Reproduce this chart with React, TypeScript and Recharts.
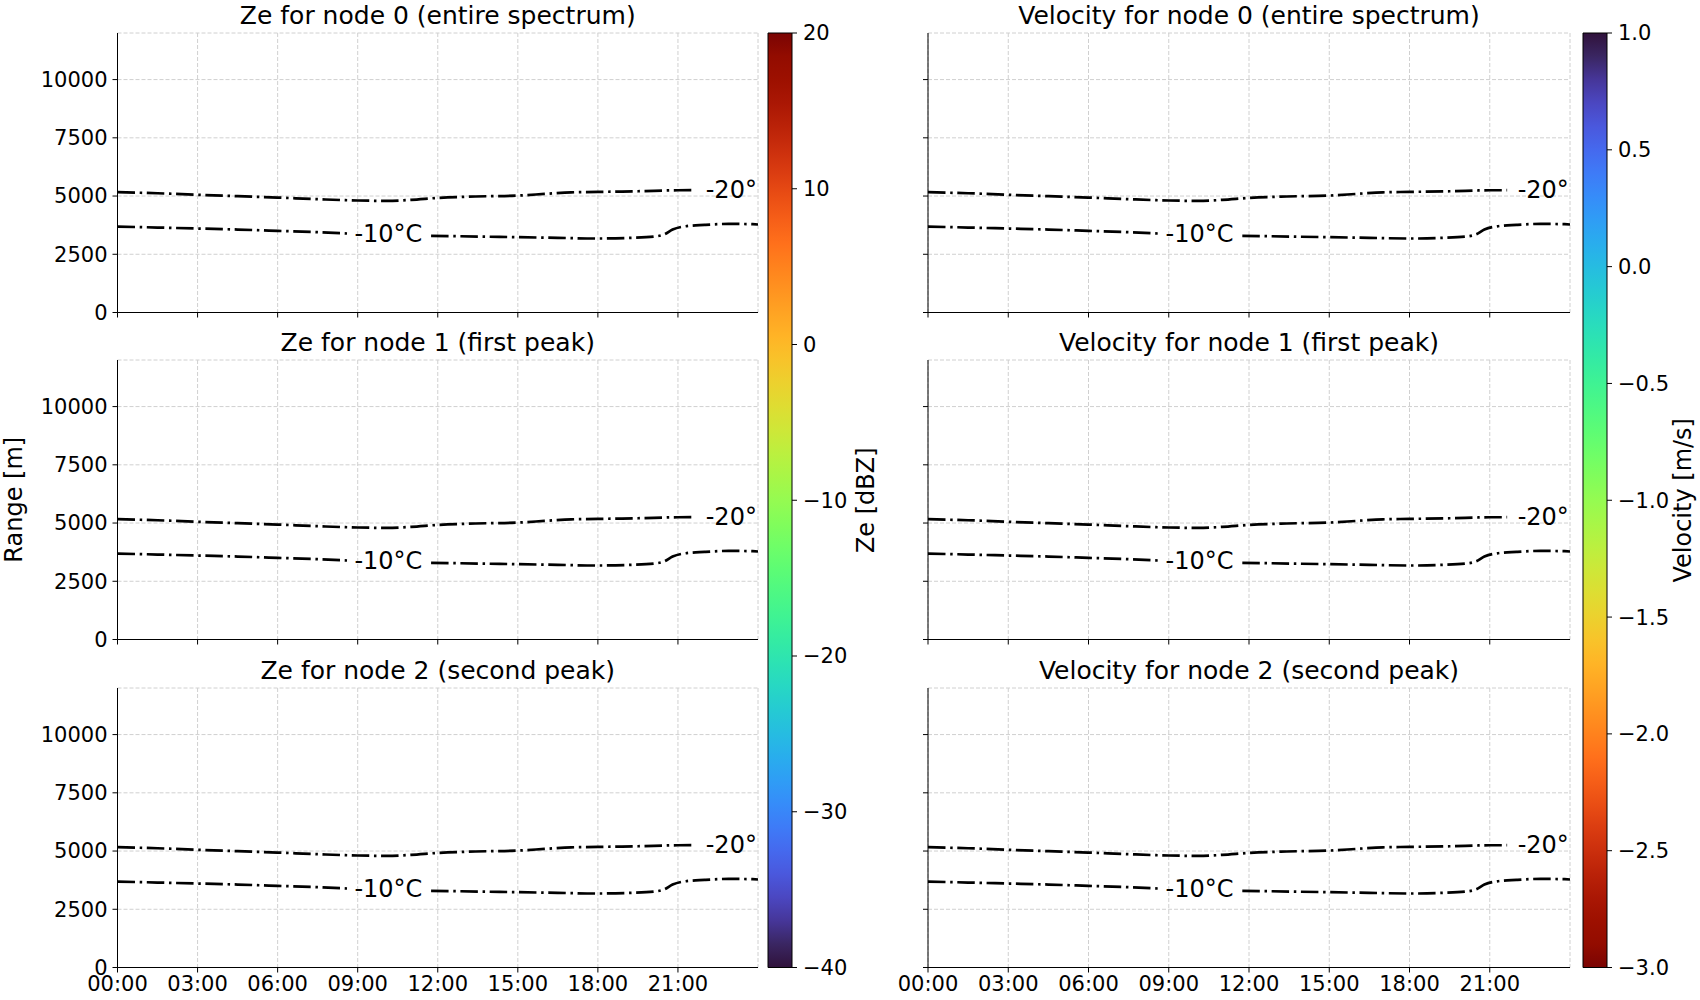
import React from "react";
import {
  LineChart,
  Line,
  XAxis,
  YAxis,
  CartesianGrid,
  ReferenceDot,
  BarChart,
  Bar,
} from "recharts";

// time axis (hours of the day)
const timeTicks = [0, 3, 6, 9, 12, 15, 18, 21];
const timeLabels = ["00:00", "03:00", "06:00", "09:00", "12:00", "15:00", "18:00", "21:00"];
const rangeTicks = [0, 2500, 5000, 7500, 10000];

// -20 °C isotherm
const iso20Hours = [0, 1.5, 3, 4.5, 6, 7.5, 9, 10.1, 11, 12, 13.4, 15, 16, 17, 18, 19.5, 21, 21.65];
const iso20Range = [5165, 5120, 5055, 4995, 4935, 4865, 4808, 4793, 4835, 4920, 4980, 5020, 5090, 5160, 5178, 5205, 5248, 5250];

// -10 °C isotherm (broken where the label sits)
const iso10aHours = [0, 1.5, 3, 4.5, 6, 7.5, 8.6];
const iso10aRange = [3690, 3648, 3605, 3562, 3505, 3447, 3392];
const iso10bHours = [11.75, 13.5, 15, 16.5, 18, 19.2, 20.1, 20.5, 20.8, 21.2, 22, 22.9, 23.8, 24];
const iso10bRange = [3292, 3261, 3233, 3204, 3176, 3204, 3261, 3362, 3562, 3690, 3762, 3805, 3792, 3778];

const isoLabels = ["-20°", "-10°C"];
const isoLabelHours = [23.0, 10.15];
const isoLabelRange = [5240, 3370];

const zeTitles = [
  "Ze for node 0 (entire spectrum)",
  "Ze for node 1 (first peak)",
  "Ze for node 2 (second peak)",
];
const velTitles = [
  "Velocity for node 0 (entire spectrum)",
  "Velocity for node 1 (first peak)",
  "Velocity for node 2 (second peak)",
];

const zeTicks = [-40, -30, -20, -10, 0, 10, 20];
const zeTickLabels = ["−40", "−30", "−20", "−10", "0", "10", "20"];
const velTicks = [-3, -2.5, -2, -1.5, -1, -0.5, 0, 0.5, 1];
const velTickLabels = ["−3.0", "−2.5", "−2.0", "−1.5", "−1.0", "−0.5", "0.0", "0.5", "1.0"];

const toPoints = (hs: number[], rs: number[]) => hs.map((h, i) => ({ h, r: rs[i] }));
const iso20 = toPoints(iso20Hours, iso20Range);
const iso10a = toPoints(iso10aHours, iso10aRange);
const iso10b = toPoints(iso10bHours, iso10bRange);

const FONT = "DejaVu Sans, sans-serif";
const PLOT_H = 279.5;
const ROW_TOPS = [32.5, 360, 687.5];
const PAD = 15;

// turbo colormap (polynomial approximation)
function turbo(t: number) {
  if (t <= 0) return "#30123b";
  if (t >= 1) return "#7a0403";
  const c = (v: number) => Math.max(0, Math.min(255, Math.round(v)));
  const r = c(34.61 + t * (1172.33 - t * (10793.56 - t * (33300.12 - t * (38394.49 - t * 14825.05)))));
  const g = c(23.31 + t * (557.33 + t * (1225.33 - t * (3574.96 - t * (1073.77 + t * 707.56)))));
  const b = c(27.2 + t * (3211.1 - t * (15327.97 - t * (27814 - t * (22569.18 - t * 6838.66)))));
  return `rgb(${r},${g},${b})`;
}
const stops = Array.from({ length: 41 }, (_, i) => i / 40);

const lineStyle = {
  stroke: "#000",
  strokeWidth: 2.7,
  strokeDasharray: "17.5 4.7 2.5 4.6",
  dot: false,
  type: "monotone" as const,
  isAnimationActive: false,
};

const tickStyle = { fill: "#000", fontSize: 21, fontFamily: FONT };

function sideLabel(text: string, dx: number) {
  return {
    value: text,
    content: (p: any) => {
      const vb = p.viewBox;
      const x = vb.x + dx;
      const y = vb.y + vb.height / 2;
      return (
        <text
          x={x}
          y={y}
          transform={`rotate(-90 ${x} ${y})`}
          textAnchor="middle"
          dominantBaseline="central"
          fontSize={24}
          fontFamily={FONT}
          fill="#000"
        >
          {text}
        </text>
      );
    },
  };
}

interface PanelProps {
  plotLeft: number;
  plotRight: number;
  yw: number;
  row: number;
  title: string;
  showYLabels: boolean;
  yLabel?: string;
}

function Panel({ plotLeft, plotRight, yw, row, title, showYLabels, yLabel }: PanelProps) {
  const top = ROW_TOPS[row];
  const bottomRow = row === 2;
  const xh = bottomRow ? 40 : 10;
  const chartLeft = plotLeft - yw;
  const width = plotRight - chartLeft + 2;
  const height = PAD + PLOT_H + xh + PAD;
  return (
    <>
      <div
        style={{
          position: "absolute",
          left: plotLeft,
          width: plotRight - plotLeft,
          top: top - 30,
          height: 25,
          lineHeight: "25px",
          fontSize: 25,
          textAlign: "center",
          whiteSpace: "nowrap",
        }}
      >
        {title}
      </div>
      <div style={{ position: "absolute", left: chartLeft, top: top - PAD }}>
        <LineChart width={width} height={height} margin={{ top: PAD, right: 2, bottom: PAD, left: 0 }}>
          <CartesianGrid stroke="#d0d0d0" strokeDasharray="4 2" />
          <XAxis
            dataKey="h"
            type="number"
            domain={[0, 24]}
            ticks={timeTicks}
            interval={0}
            allowDataOverflow
            height={xh}
            tickSize={5}
            tickMargin={4}
            stroke="#000"
            tick={tickStyle}
            tickFormatter={(v: number) => (bottomRow ? timeLabels[timeTicks.indexOf(v)] : "")}
          />
          <XAxis
            xAxisId="top"
            orientation="top"
            dataKey="h"
            type="number"
            domain={[0, 24]}
            height={0}
            tick={false}
            tickLine={false}
            stroke="#000"
          />
          <YAxis
            type="number"
            domain={[0, 12000]}
            ticks={rangeTicks}
            interval={0}
            allowDataOverflow
            width={yw}
            tickSize={5}
            tickMargin={5}
            stroke="#000"
            tick={tickStyle}
            tickFormatter={(v: number) => (showYLabels ? String(v) : "")}
            label={yLabel ? sideLabel(yLabel, 13.5) : undefined}
          />
          <YAxis
            yAxisId="right"
            orientation="right"
            type="number"
            domain={[0, 12000]}
            width={0}
            tick={false}
            tickLine={false}
            stroke="#000"
          />
          <Line data={iso20} dataKey="r" {...lineStyle} />
          <Line data={iso10a} dataKey="r" {...lineStyle} />
          <Line data={iso10b} dataKey="r" {...lineStyle} />
          {isoLabels.map((txt, i) => (
            <ReferenceDot
              key={txt}
              x={isoLabelHours[i]}
              y={isoLabelRange[i]}
              r={0}
              ifOverflow="visible"
              shape={(p: any) => (
                <text
                  x={p.cx}
                  y={p.cy}
                  textAnchor="middle"
                  dominantBaseline="central"
                  fontSize={24}
                  fontFamily={FONT}
                  fill="#000"
                >
                  {txt}
                </text>
              )}
            />
          ))}
        </LineChart>
      </div>
    </>
  );
}

interface ColorbarProps {
  left: number;
  gradId: string;
  ticks: number[];
  labels: string[];
  label: string;
  labelDx: number;
}

function Colorbar({ left, gradId, ticks, labels, label, labelDx }: ColorbarProps) {
  const min = ticks[0];
  const max = ticks[ticks.length - 1];
  const axisW = 110;
  const barW = 24;
  const span = ROW_TOPS[2] + PLOT_H - ROW_TOPS[0];
  return (
    <div style={{ position: "absolute", left: left - 1, top: ROW_TOPS[0] - PAD }}>
      <BarChart
        width={1 + barW + axisW}
        height={span + 2 * PAD}
        data={[{ name: "cb", span: [min, max] }]}
        margin={{ top: PAD, right: 0, bottom: PAD, left: 1 }}
        barCategoryGap={0}
      >
        <XAxis dataKey="name" hide />
        <YAxis
          orientation="right"
          type="number"
          domain={[min, max]}
          ticks={ticks}
          interval={0}
          width={axisW}
          tickSize={5}
          tickMargin={6}
          axisLine={false}
          stroke="#000"
          tick={tickStyle}
          tickFormatter={(v: number) => labels[ticks.indexOf(v)]}
          label={sideLabel(label, labelDx)}
        />
        <Bar dataKey="span" fill={`url(#${gradId})`} stroke="#000" strokeWidth={1} isAnimationActive={false} />
      </BarChart>
    </div>
  );
}

export default function App() {
  return (
    <div
      style={{
        position: "absolute",
        left: 0,
        top: 0,
        width: 1700,
        height: 1000,
        background: "#fff",
        fontFamily: FONT,
        color: "#000",
      }}
    >
      <svg width={0} height={0} style={{ position: "absolute" }}>
        <defs>
          <linearGradient id="zeGrad" x1="0" y1="1" x2="0" y2="0">
            {stops.map((t) => (
              <stop key={t} offset={t} stopColor={turbo(t)} />
            ))}
          </linearGradient>
          <linearGradient id="velGrad" x1="0" y1="0" x2="0" y2="1">
            {stops.map((t) => (
              <stop key={t} offset={t} stopColor={turbo(t)} />
            ))}
          </linearGradient>
        </defs>
      </svg>
      {zeTitles.map((t, row) => (
        <Panel
          key={t}
          plotLeft={117.5}
          plotRight={758}
          yw={117.5}
          row={row}
          title={t}
          showYLabels
          yLabel={row === 1 ? "Range [m]" : undefined}
        />
      ))}
      {velTitles.map((t, row) => (
        <Panel key={t} plotLeft={928} plotRight={1570} yw={60} row={row} title={t} showYLabels={false} />
      ))}
      <Colorbar left={768} gradId="zeGrad" ticks={zeTicks} labels={zeTickLabels} label="Ze [dBZ]" labelDx={74} />
      <Colorbar
        left={1583}
        gradId="velGrad"
        ticks={velTicks}
        labels={velTickLabels}
        label="Velocity [m/s]"
        labelDx={76}
      />
    </div>
  );
}
